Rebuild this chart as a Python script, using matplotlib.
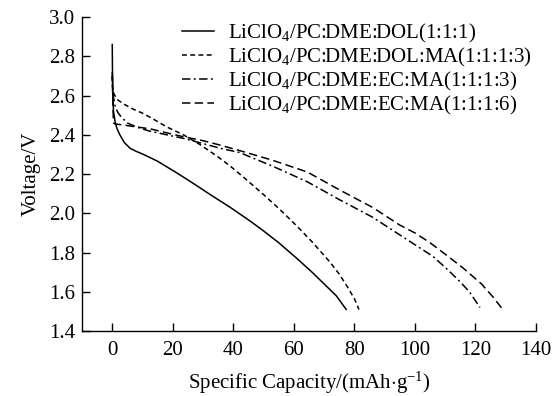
import matplotlib
matplotlib.use("Agg")
import matplotlib.pyplot as plt

plt.rcParams['font.family'] = ['Liberation Serif', 'DejaVu Serif']
plt.rcParams['mathtext.fontset'] = 'custom'
plt.rcParams['mathtext.rm'] = 'Liberation Serif'
plt.rcParams['mathtext.it'] = 'Liberation Serif:italic'

# LiClO4/PC:DME:DOL(1:1:1)
cap_dol = [0, 0.05, 0.15, 0.4, 1, 1.6, 2.5, 4, 6, 8, 10.3, 15, 21.4, 27, 32.4, 39,
           45.6, 50, 55, 61, 66, 70, 74, 77.3]
volt_dol = [2.86, 2.75, 2.62, 2.52, 2.46, 2.43, 2.40, 2.36, 2.33, 2.315, 2.30, 2.265,
            2.205, 2.15, 2.095, 2.03, 1.96, 1.91, 1.85, 1.77, 1.70, 1.64, 1.58, 1.51]

# LiClO4/PC:DME:DOL:MA(1:1:1:3)
cap_dol_ma = [0, 0.1, 0.5, 1.6, 4, 7, 10, 13, 18, 23.5, 29, 34.7, 39, 43.3, 50, 55, 61,
              66, 72, 75, 77.5, 80, 81.5]
volt_dol_ma = [2.70, 2.64, 2.61, 2.58, 2.555, 2.53, 2.51, 2.485, 2.44, 2.40, 2.35, 2.29,
               2.24, 2.185, 2.095, 2.025, 1.935, 1.855, 1.75, 1.69, 1.63, 1.565, 1.51]

# LiClO4/PC:DME:EC:MA(1:1:1:3)
cap_ec3 = [0, 0.3, 1, 2, 3, 5, 8, 12, 18, 24, 30, 36, 42, 53, 64.5, 75, 86, 95, 100,
           106, 111, 115, 118, 121.5]
volt_ec3 = [2.70, 2.60, 2.54, 2.51, 2.49, 2.46, 2.44, 2.42, 2.40, 2.38, 2.355, 2.33, 2.31,
            2.24, 2.16, 2.07, 1.98, 1.89, 1.84, 1.78, 1.71, 1.65, 1.60, 1.52]

# LiClO4/PC:DME:EC:MA(1:1:1:6)
cap_ec6 = [0, 0.2, 0.4, 1, 3.6, 8, 12.6, 18, 23.5, 30, 35, 42, 53, 64.5, 75, 86, 95, 100,
           105, 111, 116, 122, 126, 129]
volt_ec6 = [2.72, 2.55, 2.46, 2.455, 2.45, 2.44, 2.43, 2.41, 2.39, 2.37, 2.35, 2.32, 2.27,
            2.21, 2.12, 2.03, 1.94, 1.90, 1.85, 1.78, 1.72, 1.64, 1.57, 1.51]

labels = ['LiClO$_4$/PC:DME:DOL(1:1:1)',
          'LiClO$_4$/PC:DME:DOL:MA(1:1:1:3)',
          'LiClO$_4$/PC:DME:EC:MA(1:1:1:3)',
          'LiClO$_4$/PC:DME:EC:MA(1:1:1:6)']
xticks = [0, 20, 40, 60, 80, 100, 120, 140]
yticks = [1.4, 1.6, 1.8, 2.0, 2.2, 2.4, 2.6, 2.8, 3.0]

fig = plt.figure(figsize=(5.56, 3.96), dpi=100)
ax = fig.add_axes([0.1475, 0.164, 0.8165, 0.793])

lw = 1.1
ax.plot(cap_dol, volt_dol, color='black', lw=lw, label=labels[0])
ax.plot(cap_dol_ma, volt_dol_ma, color='black', lw=lw, dashes=(3.2, 2.2), label=labels[1])
ax.plot(cap_ec3, volt_ec3, color='black', lw=lw, dashes=(5.5, 2.2, 1.3, 2.2), label=labels[2])
ax.plot(cap_ec6, volt_ec6, color='black', lw=lw, dashes=(5.5, 2.8), label=labels[3])

ax.set_xlim(-10, 140)
ax.set_ylim(1.4, 3.0)
ax.set_xticks(xticks)
ax.set_yticks(yticks)
ax.set_yticklabels(['%.1f' % v for v in yticks])
ax.tick_params(direction='in', length=5.5, width=1, labelsize=15, pad=5)
ax.tick_params(axis='x', pad=7)
for s in ['top', 'right']:
    ax.spines[s].set_visible(False)
for s in ['left', 'bottom']:
    ax.spines[s].set_linewidth(1)

ax.set_xlabel('Specific Capacity/(mAh$\\cdot$g$^{-1}$)', fontsize=15, labelpad=7)
ax.set_ylabel('Voltage/V', fontsize=15, labelpad=6)

ax.legend(loc='upper left', bbox_to_anchor=(0.22, 0.985), frameon=False, fontsize=15,
          handlelength=1.55, handletextpad=0.65, labelspacing=0.05, borderaxespad=0,
          borderpad=0)

fig.savefig('out.png', dpi=100)
